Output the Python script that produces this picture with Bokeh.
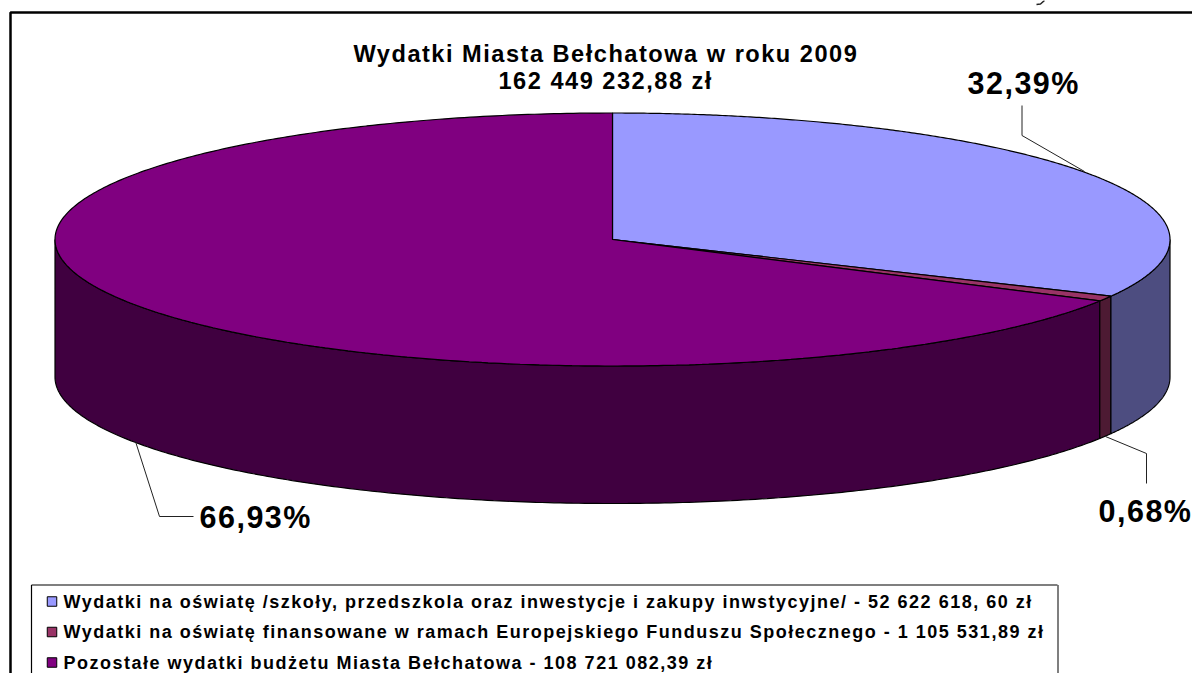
import numpy as np
from bokeh.plotting import figure
from bokeh.models import Range1d
from bokeh.core.properties import value
from bokeh.embed import file_html
from bokeh.resources import INLINE

categories = [
    "Wydatki na oświatę /szkoły, przedszkola oraz inwestycje i zakupy inwstycyjne/  - 52 622 618, 60 zł",
    "Wydatki na oświatę finansowane w ramach Europejskiego Funduszu Społecznego - 1 105 531,89 zł",
    "Pozostałe wydatki budżetu Miasta Bełchatowa - 108 721 082,39 zł",
]
amounts = [52622618.60, 1105531.89, 108721082.39]
pct_labels = ["32,39%", "0,68%", "66,93%"]
top_colors = ["#9999FF", "#993366", "#800080"]
side_colors = ["#4D4D80", "#4D1A33", "#400040"]
title_lines = ["Wydatki Miasta Bełchatowa w roku 2009", "162 449 232,88 zł"]

FONT = value("Liberation Sans")
cx, cy, rx, ry, depth = 612, 239, 557.5, 126.5, 137.5

p = figure(width=1192, height=673, x_range=Range1d(0, 1192), y_range=Range1d(673, 0),
           toolbar_location=None, output_backend="svg", min_border=0,
           x_axis_type=None, y_axis_type=None, background_fill_color="white",
           border_fill_color="white", outline_line_color=None)
p.grid.visible = False
p.styles = {"letter-spacing": "1.5px", "white-space": "pre"}

def ell(a):
    return cx + rx * np.sin(a), cy - ry * np.cos(a)

# figure frame (cut by the page at right and bottom)
p.line([10, 10, 1192], [673, 12, 12], line_color="black", line_width=2.5)
# tail of a cut-off letter above the frame
p.line([1036, 1040, 1044], [4, 3.5, 0], line_color="#222222", line_width=1.5)

# slices
fr = np.array(amounts) / sum(amounts)
edges = np.concatenate([[0], np.cumsum(fr)]) * 2 * np.pi

# drop walls, back to front: visible only between 90 and 270 degrees
for i in [2, 1, 0]:
    a0 = max(edges[i], np.pi / 2)
    a1 = min(edges[i + 1], 3 * np.pi / 2)
    a = np.linspace(a0, a1, 240)
    x, y = ell(a)
    p.patch(np.r_[x, x[::-1]], np.r_[y, y[::-1] + depth],
            fill_color=side_colors[i], line_color="black", line_width=1.2)

# top faces
for i in range(3):
    a = np.linspace(edges[i], edges[i + 1], 360)
    x, y = ell(a)
    p.patch(np.r_[cx, x], np.r_[cy, y], fill_color=top_colors[i],
            line_color="black", line_width=1.2)

# leader lines
p.line([1021.5, 1021.5, 1084], [105, 135, 171], line_color="#222222", line_width=1)
p.line([1105, 1146, 1146], [436, 453, 483], line_color="#222222", line_width=1)
p.line([135, 159, 193], [441, 516, 516], line_color="#222222", line_width=1)

# percentage labels
p.text([967, 1098, 199], [82, 510, 516], text=pct_labels, text_font=FONT, text_font_style="bold",
       text_font_size="30.5px", text_color="black", text_baseline="alphabetic")

# title
p.text([353, 498], [53, 80], text=title_lines, text_font=FONT, text_font_style="bold",
       text_font_size="23.6px", text_color="black", text_baseline="alphabetic")

# legend box (cut by the page at the bottom)
p.line([31, 31], [584.5, 673], line_color="black", line_width=1.2)
p.line([31, 1057], [584.5, 584.5], line_color="black", line_width=1.2)
p.line([1057.5, 1057.5], [584.5, 673], line_color="#555555", line_width=1.5)

leg_y = [601, 631.5, 662]
p.rect([51.5] * 3, leg_y, width=9.5, height=9.5, fill_color=top_colors,
       line_color="black", line_width=1)
p.text([63] * 3, leg_y, text=categories, text_font=FONT,
       text_font_style="bold", text_font_size="18px", text_color="black",
       text_baseline="alphabetic")

open("out.html", "w").write(file_html(p, INLINE))
